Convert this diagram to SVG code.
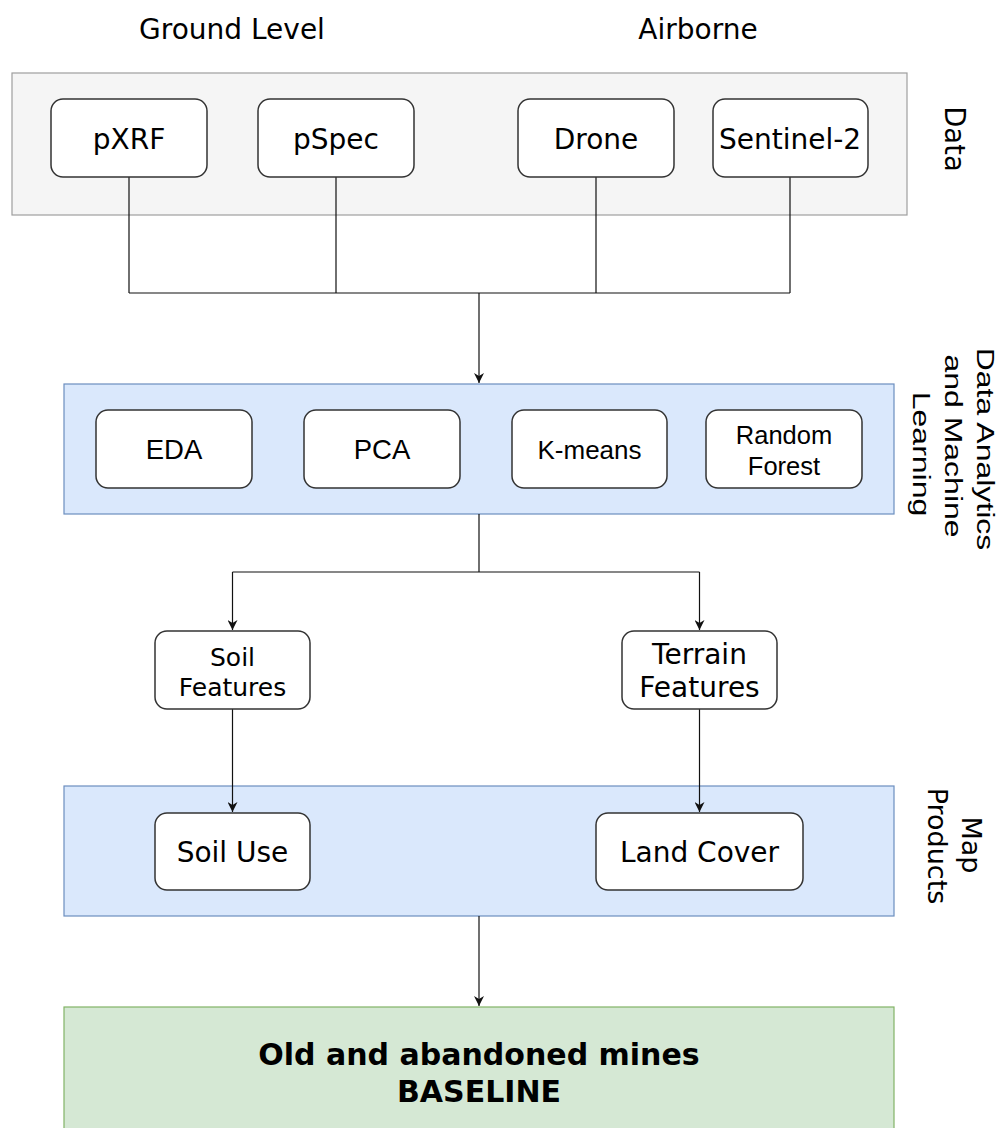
<svg xmlns="http://www.w3.org/2000/svg" width="1003" height="1128" viewBox="0 0 1003 1128">
  <style>
    .lane-gray { fill: #f5f5f5; stroke: #9e9e9e; stroke-width: 1.2; }
    .lane-blue { fill: #dae8fc; stroke: #6c8ebf; stroke-width: 1.2; }
    .lane-green { fill: #d5e8d4; stroke: #82b366; stroke-width: 1.2; }
    .node { fill: #ffffff; stroke: #333333; stroke-width: 1.5; }
    .t { font-family: "DejaVu Sans", Verdana, sans-serif; fill: #000; text-anchor: middle; }
    .a { font-family: "Liberation Sans", Arial, sans-serif; fill: #000; text-anchor: middle; }
    .b { font-family: "DejaVu Sans", Verdana, sans-serif; font-weight: bold; fill: #000; text-anchor: middle; font-size: 30px; }
    .conn { fill: none; stroke: #111111; stroke-width: 1.2; }
  </style>
  <defs>
    <marker id="arrow" viewBox="0 0 10 10" refX="10" refY="5" markerWidth="11" markerHeight="10" markerUnits="userSpaceOnUse" orient="auto">
      <path d="M0,0 L10,5 L0,10 L3,5 Z" fill="#111111"/>
    </marker>
  </defs>

  <!-- Column headers -->
  <g id="headers">
    <text class="t" x="232" y="39" font-size="28">Ground Level</text>
    <text class="t" x="698" y="39" font-size="28">Airborne</text>
  </g>

  <!-- Lanes -->
  <g id="lane-data">
    <rect class="lane-gray" x="12" y="73" width="895" height="142"/>
    <text class="t" font-size="27.5" transform="translate(945,139) rotate(90)">Data</text>
  </g>
  <g id="lane-analytics">
    <rect class="lane-blue" x="64" y="384" width="830" height="130"/>
    <text class="a" font-size="32" transform="translate(977,449) rotate(90) scale(1,0.75)">Data Analytics</text>
    <text class="a" font-size="32" transform="translate(945,446) rotate(90) scale(1,0.75)">and Machine</text>
    <text class="a" font-size="32" transform="translate(913,454) rotate(90) scale(1,0.75)">Learning</text>
  </g>
  <g id="lane-map">
    <rect class="lane-blue" x="64" y="786" width="830" height="130"/>
    <text class="t" font-size="27" transform="translate(962,845) rotate(90)">Map</text>
    <text class="t" font-size="27" transform="translate(928,846) rotate(90)">Products</text>
  </g>

  <!-- Connectors -->
  <g id="connectors">
    <path class="conn" d="M129,177 V293 M336,177 V293 M596,177 V293 M790,177 V293 M129,293 H790"/>
    <path class="conn" d="M479,293 V383" marker-end="url(#arrow)"/>
    <path class="conn" d="M479,514 V572 M232.5,572 H699.5"/>
    <path class="conn" d="M232.5,572 V630" marker-end="url(#arrow)"/>
    <path class="conn" d="M699.5,572 V630" marker-end="url(#arrow)"/>
    <path class="conn" d="M232.5,709 V812" marker-end="url(#arrow)"/>
    <path class="conn" d="M699.5,709 V812" marker-end="url(#arrow)"/>
    <path class="conn" d="M479,916 V1006" marker-end="url(#arrow)"/>
  </g>

  <!-- Data nodes -->
  <g id="node-pxrf">
    <rect class="node" x="51" y="99" width="156" height="78" rx="12"/>
    <text class="t" x="129" y="149" font-size="28">pXRF</text>
  </g>
  <g id="node-pspec">
    <rect class="node" x="258" y="99" width="156" height="78" rx="12"/>
    <text class="t" x="336" y="149" font-size="28">pSpec</text>
  </g>
  <g id="node-drone">
    <rect class="node" x="518" y="99" width="156" height="78" rx="12"/>
    <text class="t" x="596" y="149" font-size="28">Drone</text>
  </g>
  <g id="node-sentinel2">
    <rect class="node" x="713" y="99" width="155" height="78" rx="12"/>
    <text class="t" x="790" y="149" font-size="28">Sentinel-2</text>
  </g>

  <!-- Analytics nodes -->
  <g id="node-eda">
    <rect class="node" x="96" y="410" width="156" height="78" rx="12"/>
    <text class="a" x="174" y="459" font-size="27.5">EDA</text>
  </g>
  <g id="node-pca">
    <rect class="node" x="304" y="410" width="156" height="78" rx="12"/>
    <text class="a" x="382" y="459" font-size="27.5">PCA</text>
  </g>
  <g id="node-kmeans">
    <rect class="node" x="512" y="410" width="155" height="78" rx="12"/>
    <text class="a" x="589.5" y="459" font-size="26">K-means</text>
  </g>
  <g id="node-randomforest">
    <rect class="node" x="706" y="410" width="156" height="78" rx="12"/>
    <text class="a" x="784" y="444" font-size="25.5">Random</text>
    <text class="a" x="784" y="475" font-size="25.5">Forest</text>
  </g>

  <!-- Feature nodes -->
  <g id="node-soilfeatures">
    <rect class="node" x="155" y="631" width="155" height="78" rx="12"/>
    <text class="t" x="232.5" y="666" font-size="25">Soil</text>
    <text class="t" x="232.5" y="696" font-size="25">Features</text>
  </g>
  <g id="node-terrainfeatures">
    <rect class="node" x="622" y="631" width="155" height="78" rx="12"/>
    <text class="t" x="699.5" y="664" font-size="28">Terrain</text>
    <text class="t" x="699.5" y="697" font-size="28">Features</text>
  </g>

  <!-- Map product nodes -->
  <g id="node-soiluse">
    <rect class="node" x="155" y="813" width="155" height="77" rx="12"/>
    <text class="t" x="232.5" y="862" font-size="28">Soil Use</text>
  </g>
  <g id="node-landcover">
    <rect class="node" x="596" y="813" width="207" height="77" rx="12"/>
    <text class="t" x="699.5" y="862" font-size="28">Land Cover</text>
  </g>

  <!-- Baseline -->
  <g id="node-baseline">
    <rect class="lane-green" x="64" y="1007" width="830" height="140"/>
    <text class="b" x="479" y="1065">Old and abandoned mines</text>
    <text class="b" x="479" y="1102">BASELINE</text>
  </g>
</svg>
